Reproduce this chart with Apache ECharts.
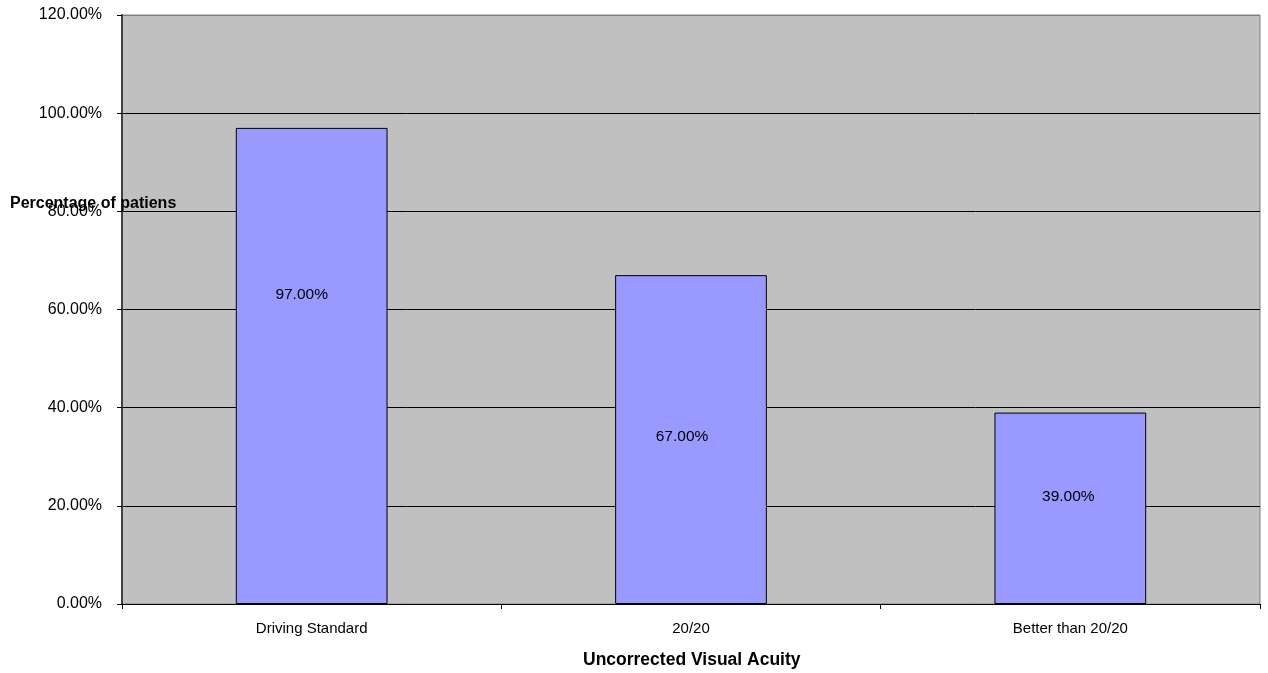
<!DOCTYPE html>
<html>
<head>
<meta charset="utf-8">
<script src="https://cdn.jsdelivr.net/npm/echarts@6/dist/echarts.min.js"></script>
<style>
  html, body { margin: 0; padding: 0; background: #fff; }
  #chart { width: 1268px; height: 673px; }
</style>
</head>
<body>
<div id="chart"></div>
<script>
// Share of patients reaching each uncorrected visual acuity level
const categories = ['Driving Standard', '20/20', 'Better than 20/20'];
const percentages = [97, 67, 39];
const yTicks = { min: 0, max: 120, step: 20 };

// placement of each value label inside its bar
const labelOffsets = [[-10, -71], [-9, -3], [-2, -12]];

const chart = echarts.init(document.getElementById('chart'), null, { renderer: 'canvas' });
const font = 'Liberation Sans, Arial, sans-serif';

// gridlines are black, the top edge of the plot frame stays grey
const gridColors = ['#000', '#000', '#000', '#000', '#000', '#000', '#808080'];

chart.setOption({
  animation: false,
  backgroundColor: '#ffffff',
  textStyle: { fontFamily: font },
  grid: {
    left: 122, right: 8, top: 15, bottom: 69,
    show: true, backgroundColor: '#c0c0c0', borderColor: '#808080', borderWidth: 1
  },
  xAxis: {
    type: 'category',
    data: categories,
    axisLine: { show: true, lineStyle: { color: '#000', width: 1 } },
    axisTick: { show: true, length: 5, alignWithLabel: false, lineStyle: { color: '#000' } },
    axisLabel: { color: '#000', fontSize: 15, fontFamily: font, margin: 17 },
    splitLine: { show: false }
  },
  yAxis: {
    type: 'value',
    min: yTicks.min, max: yTicks.max, interval: yTicks.step,
    axisLine: { show: true, lineStyle: { color: '#404040', width: 2 } },
    axisTick: { show: true, length: 5, lineStyle: { color: '#000' } },
    axisLabel: {
      color: '#000', fontSize: 16, fontFamily: font, margin: 20,
      formatter: v => v.toFixed(2) + '%'
    },
    splitLine: { show: true, lineStyle: { color: gridColors, width: 1 } }
  },
  graphic: [
    {
      type: 'text', left: 10, top: 196,
      style: { text: 'Percentage of patiens', font: 'bold 16px ' + font, fill: '#000' },
      z: 100
    },
    {
      type: 'text', left: 583, top: 651,
      style: { text: 'Uncorrected Visual Acuity', font: 'bold 17.5px ' + font, fill: '#000' },
      z: 100
    }
  ],
  series: [{
    type: 'bar',
    barWidth: '40%',
    data: percentages.map((v, i) => ({
      value: v,
      label: { offset: labelOffsets[i] }
    })),
    itemStyle: { color: '#9999ff', borderColor: '#000', borderWidth: 1 },
    label: {
      show: true, position: 'inside', color: '#000', fontSize: 15.5, fontFamily: font,
      formatter: p => p.value.toFixed(2) + '%'
    }
  }]
});
</script>
</body>
</html>
